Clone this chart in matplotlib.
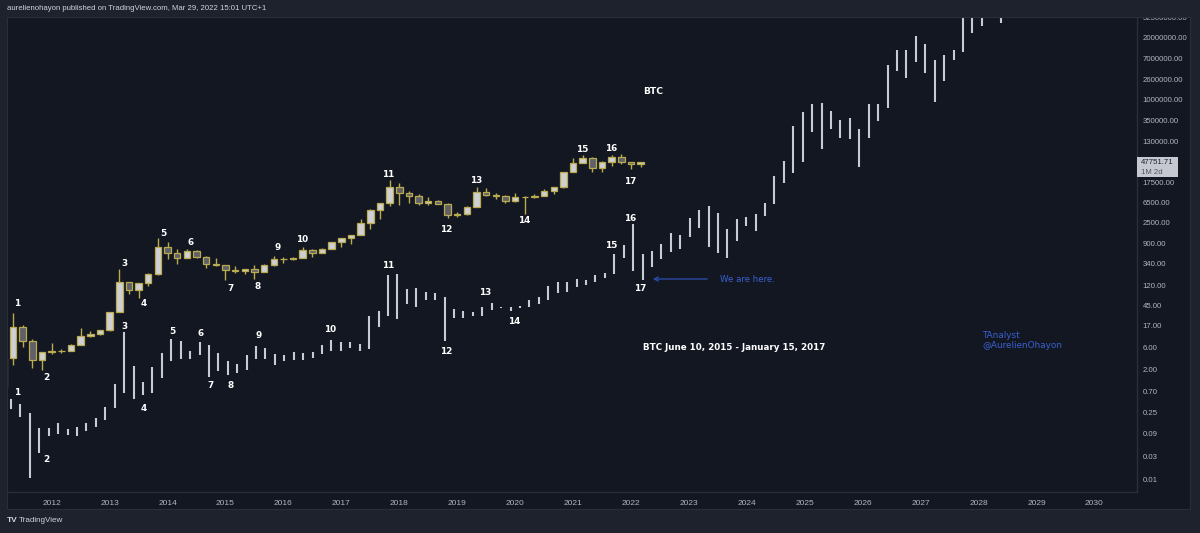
import matplotlib.pyplot as plt
import numpy as np
from matplotlib.patches import Rectangle, FancyArrowPatch
from matplotlib.ticker import NullLocator

plt.rcParams['font.family'] = ['Liberation Sans', 'DejaVu Sans']

# BTC 2-month candles, Mar 2011 .. Mar 2022
btc_open = [0.86, 3.5, 16.1, 8.2, 3.25, 4.7, 4.9, 5.0, 6.7, 10.2, 11.2,
            13.5, 33.4, 139, 97, 135, 210,
            757, 565, 447, 640, 478, 338,
            320, 254, 236, 263, 230, 314,
            430, 437, 448, 673, 575, 700,
            964, 1190, 1350, 2500, 4700, 6450,
            14000, 10300, 9250, 6400, 7000, 6300,
            3700, 3800, 5300, 10800, 9600, 9150,
            7200, 8550, 8650, 9140, 11650, 13800,
            29000, 45200, 57750, 35000, 47150, 61300,
            46200, 43200]
btc_high = [3.9, 31.9, 17.5, 8.9, 4.8, 7.2, 5.4, 6.8, 15.4, 12.9, 13.8,
            33.5, 266, 140, 135, 213, 1163,
            1000, 680, 680, 660, 490, 460,
            320, 300, 268, 317, 335, 500,
            465, 465, 780, 680, 740, 980,
            1200, 1350, 3000, 4750, 6500, 19800,
            17200, 11700, 10000, 8500, 7400, 6600,
            4200, 5600, 13880, 13200, 10500, 9500,
            10500, 9200, 10080, 12470, 14100, 29300,
            58350, 64900, 59600, 50500, 67000, 69000,
            47700, 48200]
btc_low = [0.75, 2.5, 6.0, 2.2, 2.0, 4.2, 4.5, 4.9, 6.6, 9.9, 10.5,
           13.2, 33, 79, 65, 118, 200,
           420, 340, 440, 460, 275, 310,
           152, 215, 210, 162, 225, 300,
           350, 400, 440, 470, 570, 680,
           750, 890, 1350, 1830, 2970, 5500,
           6000, 6450, 5750, 5850, 6100, 3150,
           3350, 3700, 5300, 9100, 7700, 6500,
           6850, 3850, 8100, 8900, 9850, 13200,
           28800, 44950, 28800, 29300, 39600, 42000,
           32950, 37200]
btc_close = [3.5, 16.1, 8.2, 3.25, 4.7, 4.9, 5.0, 6.7, 10.2, 11.2, 13.5,
             33.4, 139, 97, 135, 210, 757,
             565, 447, 640, 478, 338, 320,
             254, 236, 263, 230, 314, 430,
             437, 448, 673, 575, 700, 964,
             1190, 1350, 2500, 4700, 6450, 14000,
             10300, 9250, 6400, 7000, 6300, 3700,
             3800, 5300, 10800, 9600, 9150, 7200,
             8550, 8650, 9140, 11650, 13800, 29000,
             45200, 57750, 35000, 47150, 61300, 46200,
             43200, 47751.71]

# fractal: BTC Jun 10 2015 - Jan 15 2017, stretched over the chart (bar high / low)
frac_high = [0.476, 0.374, 0.249, 0.117, 0.120, 0.151, 0.111, 0.124, 0.153, 0.190,
             0.323, 1.0, 12.6, 2.43, 1.12, 2.31, 4.43, 8.73, 7.92, 4.95,
             7.66, 6.72, 4.43, 3.01, 2.68, 4.08, 6.31, 5.64, 4.22, 4.08,
             4.79, 4.56, 4.65, 6.53, 8.32, 7.66, 7.66, 6.95, 27.4, 34.9,
             194, 207, 100, 105, 86.5, 81.2, 67.9, 38.5, 34.4, 33.3,
             42.4, 51.5, 42.4, 41.8, 43.9, 58.7, 68.8, 118, 142, 138,
             160, 155, 197, 214, 546, 836, 2280, 553, 631, 865,
             1490, 1360, 3150, 4670, 5590, 3920, 1790, 2950, 3330, 3830,
             6620, 23900, 48800, 270000, 540000, 773000, 836000, 559000, 361000, 398000,
             230000, 785000, 785000, 5120000, 10900000, 10800000, 21200000, 14600000, 6620000, 8320000,
             10800000, 95000000, 75000000, 95000000, 140000000, 120000000]
frac_low = [0.293, 0.199, 0.0105, 0.0348, 0.0816, 0.0899, 0.0856, 0.0792, 0.104, 0.126,
            0.175, 0.312, 0.637, 0.483, 0.587, 0.656, 1.36, 3.09, 3.31, 3.31,
            4.08, 1.38, 1.88, 1.55, 1.68, 1.94, 3.44, 3.41, 2.48, 3.05,
            3.20, 3.20, 3.58, 4.22, 5.02, 5.02, 5.64, 4.88, 5.53, 16.1,
            27.0, 23.4, 48.3, 42.4, 58.7, 57.8, 8.04, 24.9, 24.2, 26.6,
            26.6, 35.6, 39.2, 34.9, 39.2, 41.2, 49.0, 58.7, 81.2, 85.2,
            108, 121, 142, 170, 202, 439, 243, 152, 284, 434,
            593, 688, 1230, 1970, 755, 581, 443, 1040, 2150, 1690,
            3360, 6070, 17300, 28100, 46500, 205000, 88600, 234000, 153000, 146000,
            36500, 153000, 344000, 656000, 3940000, 2810000, 6100000, 3480000, 852000, 2430000,
            6720000, 9900000, 24900000, 34400000, 70000000, 39200000]

price_ticks = [52500000, 20000000, 7000000, 2600000, 1000000, 350000, 130000,
               17500, 6500, 2500, 900, 340, 120, 45, 17, 6, 2,
               0.70, 0.25, 0.09, 0.03, 0.01]
years = list(range(2012, 2031))

page = '#1e222d'
bg = '#131722'
line = '#2a2e39'
axis_txt = '#b2b5be'

W, H = 1200, 533
def fx(x):
    return x / W
def fy(y):
    return 1 - y / H

fig = plt.figure(figsize=(12, 5.33), dpi=100, facecolor=page)
fig.add_artist(Rectangle((fx(7), fy(509)), fx(1190) - fx(7), fy(17) - fy(509),
                         transform=fig.transFigure, facecolor=bg, edgecolor='none', zorder=-1))

ax = fig.add_axes([fx(7), fy(492), fx(1137) - fx(7), fy(17) - fy(492)])
ax.set_facecolor(bg)
ax.set_yscale('log')
ax.set_ylim(0.005325, 5.325e7)
ax.set_xlim(2011.2284, 2030.7345)

# candles
o = np.array(btc_open)
h = np.array(btc_high)
l = np.array(btc_low)
c = np.array(btc_close)
t = 2011 + 2 / 12 + np.arange(len(o)) / 6
up = c >= o
edge = '#b9ab4e'
ax.vlines(t, l, h, color=edge, lw=1.0, zorder=2)
ax.bar(t[up], (c - o)[up], bottom=o[up], width=0.112, color='#cfd0d4',
       edgecolor=edge, linewidth=0.9, zorder=3)
ax.bar(t[~up], (o - c)[~up], bottom=c[~up], width=0.112, color='#5f6068',
       edgecolor=edge, linewidth=0.9, zorder=3)

# fractal bars
tf = 2011.2974 + 0.16271 * np.arange(len(frac_high))
ax.vlines(tf, frac_low, frac_high, color='#c9cbd2', lw=1.5, zorder=2)

for s in ['top', 'left']:
    ax.spines[s].set_visible(False)
for s in ['right', 'bottom']:
    ax.spines[s].set_color(line)
    ax.spines[s].set_linewidth(1)

ax.yaxis.tick_right()
ax.yaxis.set_minor_locator(NullLocator())
ax.set_yticks(price_ticks)
ax.set_yticklabels([f'{v:.2f}' for v in price_ticks])
ax.tick_params(axis='y', length=0, pad=4, labelsize=5.6, labelcolor=axis_txt)
ax.set_xticks(years)
ax.set_xticklabels([str(y) for y in years])
ax.tick_params(axis='x', length=0, pad=6, labelsize=6, labelcolor=axis_txt)

# hide the half-cut top price label above the panel
fig.add_artist(Rectangle((fx(1137), fy(16.5)), fx(1200) - fx(1137), 1 - fy(16.5),
                         transform=fig.transFigure, facecolor=page, edgecolor='none', zorder=5))
fig.add_artist(Rectangle((fx(7), fy(509)), fx(1190) - fx(7), fy(17) - fy(509),
                         transform=fig.transFigure, facecolor='none', edgecolor=line, lw=0.8, zorder=6))

# last price box
fig.add_artist(Rectangle((fx(1137), fy(177)), fx(1178) - fx(1137), fy(157) - fy(177),
                         transform=fig.transFigure, facecolor='#c5c8d0', edgecolor='none', zorder=7))
fig.text(fx(1141), fy(163), '47751.71', color='#1e222d', fontsize=5.6, ha='left', va='center', zorder=8)
fig.text(fx(1141), fy(172.5), '1M 2d', color='#50535e', fontsize=5.6, ha='left', va='center', zorder=8)

fig.text(fx(7), fy(9), 'aurelienohayon published on TradingView.com, Mar 29, 2022 15:01 UTC+1',
         color='#d1d4dc', fontsize=5.6, ha='left', va='center', zorder=8)
fig.text(fx(7), fy(521), 'TV', color='#d1d4dc', fontsize=6, fontweight='bold', ha='left', va='center')
fig.text(fx(19), fy(521), 'TradingView', color='#d1d4dc', fontsize=5.8, ha='left', va='center')

# wave labels
lab = dict(color='white', fontsize=6.4, fontweight='bold', ha='center', va='center',
           family=['DejaVu Sans'])
top_labels = [('1', 17.3, 303.3), ('2', 46.7, 377.7), ('3', 124, 264), ('4', 143.3, 303.3),
              ('5', 163, 233), ('6', 191, 242.7), ('7', 230, 288.3), ('8', 258, 286.7),
              ('9', 278, 248), ('10', 302, 239), ('11', 388.3, 175), ('12', 446.7, 230),
              ('13', 476, 180.7), ('14', 524, 221), ('15', 582.3, 149), ('16', 611, 148.3),
              ('17', 630, 181)]
bottom_labels = [('1', 17.3, 392.3), ('2', 46.7, 460), ('3', 124, 326.7), ('4', 143.3, 408.3),
                 ('5', 172.3, 331), ('6', 201, 333.3), ('7', 210.7, 386), ('8', 230.7, 386),
                 ('9', 258.3, 336), ('10', 330, 330), ('11', 388.3, 265.3), ('12', 446.7, 351),
                 ('13', 485, 292.7), ('14', 514.3, 321.7), ('15', 611, 245.3), ('16', 630, 218.3),
                 ('17', 640, 288.3)]
for s, x, y in top_labels + bottom_labels:
    fig.text(fx(x), fy(y), s, **lab)

fig.text(fx(643), fy(91.5), 'BTC', color='white', fontsize=6.6, fontweight='bold',
         ha='left', va='center', family=['DejaVu Sans'])
fig.text(fx(643), fy(347), 'BTC June 10, 2015 - January 15, 2017', color='white', fontsize=6.3,
         fontweight='bold', ha='left', va='center', family=['DejaVu Sans'])

blue = '#3a5fd0'
fig.add_artist(FancyArrowPatch((fx(710), fy(279)), (fx(650), fy(279)), transform=fig.transFigure,
                               arrowstyle='->', mutation_scale=7, color='#2b4aa8', lw=1.0))
fig.text(fx(720), fy(279), 'We are here.', color=blue, fontsize=6.2, ha='left', va='center',
         family=['DejaVu Sans'])
fig.text(fx(982), fy(335), 'TAnalyst', color=blue, fontsize=6.4, ha='left', va='center',
         family=['DejaVu Sans'])
fig.text(fx(982), fy(346), '@AurelienOhayon', color=blue, fontsize=6.4, ha='left', va='center',
         family=['DejaVu Sans'])

fig.savefig('out.png', dpi=100, facecolor=page)
